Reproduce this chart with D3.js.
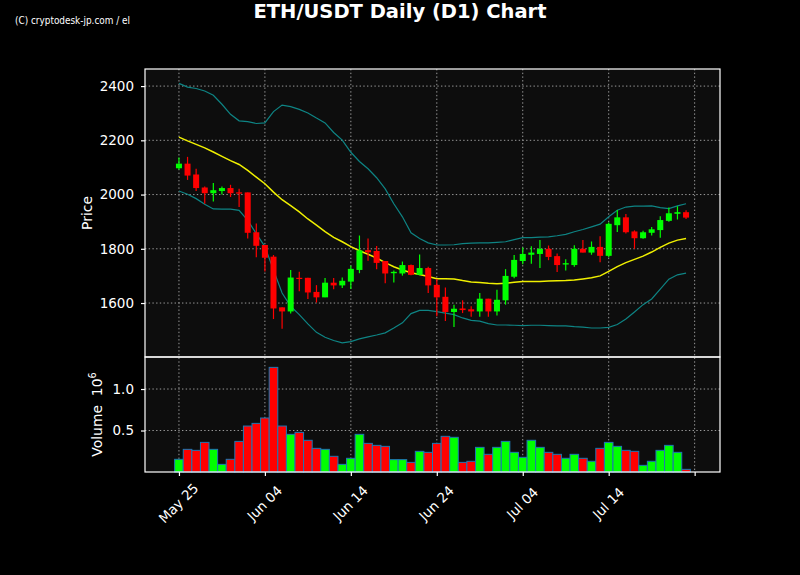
<!DOCTYPE html>
<html>
<head>
<meta charset="utf-8">
<script src="https://cdn.jsdelivr.net/npm/d3@7"></script>
<style>
  html, body { margin: 0; padding: 0; background: #000; }
  svg { display: block; }
  text { font-family: "DejaVu Sans", sans-serif; fill: #fff; }
</style>
</head>
<body>
<script>
// daily candles, May 25 .. Jul 23
const startDate = new Date(Date.UTC(2023, 4, 25))
const dates = d3.utcDay.range(startDate, d3.utcDay.offset(startDate, 60))

const open = [2097, 2114, 2074, 2026, 2005, 2013, 2024, 2008, 2008, 1861,
  1814, 1771, 1584, 1569, 1693, 1693, 1641, 1621, 1675, 1665,
  1679, 1722, 1795, 1792, 1755, 1710, 1709, 1740, 1704, 1729,
  1667, 1623, 1567, 1580, 1577, 1569, 1616, 1569, 1610, 1697,
  1755, 1778, 1781, 1800, 1773, 1742, 1740, 1800, 1786, 1807,
  1774, 1887, 1916, 1864, 1839, 1859, 1869, 1903, 1929, 1935]
const high = [2137, 2139, 2095, 2030, 2043, 2030, 2036, 2021, 2008, 1893,
  1814, 1777, 1584, 1722, 1715, 1693, 1666, 1692, 1692, 1694,
  1738, 1849, 1838, 1810, 1755, 1720, 1753, 1742, 1779, 1734,
  1689, 1657, 1594, 1610, 1588, 1637, 1616, 1649, 1725, 1777,
  1805, 1809, 1832, 1812, 1783, 1761, 1813, 1832, 1827, 1846,
  1897, 1943, 1928, 1868, 1867, 1880, 1920, 1952, 1957, 1942]
const low = [2092, 2054, 2013, 1966, 1974, 2000, 1991, 1954, 1838, 1769,
  1716, 1541, 1505, 1561, 1643, 1615, 1602, 1621, 1651, 1655,
  1652, 1710, 1756, 1725, 1673, 1676, 1701, 1702, 1702, 1637,
  1551, 1534, 1512, 1563, 1549, 1549, 1549, 1554, 1594, 1691,
  1743, 1745, 1729, 1758, 1714, 1720, 1734, 1786, 1778, 1750,
  1769, 1862, 1856, 1800, 1837, 1849, 1841, 1900, 1908, 1910]
const close = [2114, 2070, 2024, 2005, 2016, 2024, 2005, 2005, 1859, 1811,
  1767, 1580, 1569, 1694, 1689, 1639, 1621, 1675, 1665, 1682,
  1726, 1794, 1787, 1748, 1709, 1715, 1740, 1704, 1729, 1665,
  1621, 1567, 1579, 1574, 1569, 1616, 1569, 1612, 1700, 1759,
  1781, 1786, 1800, 1770, 1740, 1747, 1800, 1786, 1807, 1774,
  1892, 1916, 1861, 1839, 1861, 1872, 1906, 1931, 1935, 1915]

// volume in units of 10^6
const volume = [0.153, 0.273, 0.261, 0.357, 0.273, 0.092, 0.153, 0.369, 0.554, 0.586,
  0.651, 1.261, 0.554, 0.454, 0.478, 0.382, 0.285, 0.273, 0.189, 0.092,
  0.165, 0.454, 0.345, 0.321, 0.309, 0.149, 0.149, 0.116, 0.249, 0.237,
  0.345, 0.430, 0.418, 0.116, 0.129, 0.297, 0.213, 0.297, 0.369, 0.237,
  0.177, 0.382, 0.297, 0.237, 0.213, 0.165, 0.213, 0.165, 0.129, 0.285,
  0.357, 0.309, 0.261, 0.249, 0.080, 0.129, 0.261, 0.321, 0.237, 0.032]

// bollinger bands (20 day)
const bbMid = [2212, 2198, 2185, 2172, 2157, 2141, 2125, 2111, 2089, 2064,
  2040, 2009, 1981, 1959, 1936, 1910, 1887, 1863, 1842, 1826,
  1808, 1793, 1780, 1766, 1749, 1734, 1722, 1712, 1705, 1698,
  1690, 1690, 1689, 1683, 1678, 1676, 1673, 1671, 1673, 1677,
  1679, 1679, 1679, 1681, 1682, 1683, 1685, 1689, 1693, 1700,
  1717, 1734, 1749, 1761, 1773, 1788, 1805, 1821, 1832, 1838]
const bbUpper = [2410, 2396, 2391, 2382, 2366, 2333, 2296, 2272, 2269, 2262,
  2264, 2306, 2330, 2324, 2314, 2301, 2282, 2264, 2229, 2201,
  2156, 2122, 2095, 2062, 2021, 1966, 1918, 1859, 1838, 1822,
  1814, 1814, 1815, 1819, 1821, 1822, 1822, 1824, 1826, 1834,
  1841, 1841, 1843, 1844, 1848, 1853, 1863, 1871, 1881, 1891,
  1918, 1942, 1954, 1957, 1957, 1958, 1952, 1948, 1958, 1966]
const bbLower = [2013, 2001, 1985, 1964, 1947, 1946, 1946, 1942, 1905, 1856,
  1808, 1722, 1637, 1588, 1557, 1523, 1492, 1474, 1462, 1453,
  1458, 1468, 1475, 1482, 1490, 1508, 1527, 1561, 1573, 1573,
  1568, 1563, 1557, 1545, 1536, 1533, 1524, 1519, 1519, 1518,
  1517, 1518, 1518, 1517, 1516, 1516, 1513, 1511, 1508, 1508,
  1510, 1521, 1541, 1567, 1594, 1615, 1651, 1688, 1704, 1710]

const priceTicks = [1600, 1800, 2000, 2200, 2400]
const volumeTicks = [0.5, 1.0]
const dateTicks = d3.utcDay.range(startDate, d3.utcDay.offset(startDate, 61), 10)
const labelledTicks = 6

const candles = dates.map((date, i) => ({
  date, o: open[i], h: high[i], l: low[i], c: close[i], v: volume[i]
}))

const width = 800
const height = 575
const left = 145
const right = 720
const mainTop = 69
const mainBottom = 357
const volBottom = 472
const up = '#00ff00'
const down = '#ff0000'
const gridColor = '#9a9a9a'

const pad = 3.95 * 864e5
const x = d3.scaleUtc()
  .domain([new Date(dates[0].getTime() - pad), new Date(dates[dates.length - 1].getTime() + pad)])
  .range([left, right])
const step = x(dates[1]) - x(dates[0])

const yPrice = d3.scaleLinear().domain([1401, 2463]).range([mainBottom, mainTop])
const yVol = d3.scaleLinear().domain([0, 1.386]).range([volBottom, mainBottom])

const svg = d3.select('body').append('svg')
  .attr('width', width)
  .attr('height', height)

svg.append('rect').attr('width', width).attr('height', height).attr('fill', '#000')

// panel backgrounds
svg.append('rect')
  .attr('x', left).attr('y', mainTop)
  .attr('width', right - left).attr('height', volBottom - mainTop)
  .attr('fill', '#0d0d0d')

const grid = svg.append('g')
  .attr('stroke', gridColor)
  .attr('stroke-width', 1)
  .attr('stroke-dasharray', '1.4,2.3')

grid.selectAll('line.gx')
  .data(dateTicks)
  .join('line')
  .attr('class', 'gx')
  .attr('x1', d => x(d)).attr('x2', d => x(d))
  .attr('y1', mainTop).attr('y2', volBottom)

grid.selectAll('line.gp')
  .data(priceTicks)
  .join('line')
  .attr('class', 'gp')
  .attr('x1', left).attr('x2', right)
  .attr('y1', d => yPrice(d)).attr('y2', d => yPrice(d))

grid.selectAll('line.gv')
  .data(volumeTicks)
  .join('line')
  .attr('class', 'gv')
  .attr('x1', left).attr('x2', right)
  .attr('y1', d => yVol(d)).attr('y2', d => yVol(d))

// bands
const bandLine = (values) => d3.line()
  .x((d, i) => x(dates[i]))
  .y(d => yPrice(d))(values)

svg.append('path').attr('d', bandLine(bbUpper))
  .attr('fill', 'none').attr('stroke', '#0e8484').attr('stroke-width', 1.2)
svg.append('path').attr('d', bandLine(bbLower))
  .attr('fill', 'none').attr('stroke', '#0e8484').attr('stroke-width', 1.2)
svg.append('path').attr('d', bandLine(bbMid))
  .attr('fill', 'none').attr('stroke', '#f0f000').attr('stroke-width', 1.5)

// candles
const bodyW = step * 0.7
const candle = svg.append('g').selectAll('g')
  .data(candles)
  .join('g')

candle.append('line')
  .attr('x1', d => x(d.date)).attr('x2', d => x(d.date))
  .attr('y1', d => yPrice(d.h)).attr('y2', d => yPrice(d.l))
  .attr('stroke', d => d.c >= d.o ? up : down)
  .attr('stroke-width', 1.2)

candle.append('rect')
  .attr('x', d => x(d.date) - bodyW / 2)
  .attr('width', bodyW)
  .attr('y', d => yPrice(Math.max(d.o, d.c)))
  .attr('height', d => Math.max(1.2, Math.abs(yPrice(d.o) - yPrice(d.c))))
  .attr('fill', d => d.c >= d.o ? up : down)

// volume
svg.append('g').selectAll('rect')
  .data(candles)
  .join('rect')
  .attr('x', d => x(d.date) - step / 2)
  .attr('width', step)
  .attr('y', d => yVol(d.v))
  .attr('height', d => yVol(0) - yVol(d.v))
  .attr('fill', d => d.c >= d.o ? up : down)
  .attr('stroke', '#1f77b4')
  .attr('stroke-width', 1)

// frames
const frame = svg.append('g').attr('fill', 'none').attr('stroke', '#fff').attr('stroke-width', 1.2)
frame.append('rect')
  .attr('x', left).attr('y', mainTop)
  .attr('width', right - left).attr('height', mainBottom - mainTop)
frame.append('rect')
  .attr('x', left).attr('y', mainBottom)
  .attr('width', right - left).attr('height', volBottom - mainBottom)

// axes
const styleAxis = (g) => {
  g.select('.domain').remove()
  g.selectAll('.tick line').attr('stroke', '#fff').attr('stroke-width', 1.2)
  g.selectAll('.tick text').attr('fill', '#fff').attr('font-size', 13.5)
    .attr('font-family', '"DejaVu Sans", sans-serif')
}

svg.append('g')
  .attr('transform', `translate(${left},0)`)
  .call(d3.axisLeft(yPrice).tickValues(priceTicks).tickSize(4).tickPadding(7).tickFormat(d3.format('d')))
  .call(styleAxis)

svg.append('g')
  .attr('transform', `translate(${left},0)`)
  .call(d3.axisLeft(yVol).tickValues(volumeTicks).tickSize(4).tickPadding(7).tickFormat(d3.format('.1f')))
  .call(styleAxis)

const xAxis = svg.append('g')
  .attr('transform', `translate(0,${volBottom})`)
  .call(d3.axisBottom(x).tickValues(dateTicks).tickSize(4).tickFormat(''))
  .call(styleAxis)

xAxis.selectAll('.tick').each(function (d, i) {
  if (i >= labelledTicks) return
  d3.select(this).append('text')
    .attr('transform', 'translate(-1,31) rotate(-45)')
    .attr('text-anchor', 'middle')
    .attr('dominant-baseline', 'central')
    .attr('font-size', 13.5)
    .text(d3.utcFormat('%b %d')(d))
})

// labels
svg.append('text')
  .attr('transform', `translate(92,${(mainTop + mainBottom) / 2}) rotate(-90)`)
  .attr('text-anchor', 'middle')
  .attr('font-size', 13.9)
  .text('Price')

const volLabel = svg.append('text')
  .attr('transform', `translate(102,${(mainBottom + volBottom) / 2}) rotate(-90)`)
  .attr('text-anchor', 'middle')
  .attr('font-size', 13.9)
volLabel.append('tspan').text('Volume\u00a0\u00a010')
volLabel.append('tspan').attr('font-size', 9.7).attr('dy', -6).text('6')

svg.append('text')
  .attr('x', 400).attr('y', 18)
  .attr('text-anchor', 'middle')
  .attr('font-size', 19.5)
  .attr('font-weight', 'bold')
  .text('ETH/USDT Daily (D1) Chart')

svg.append('text')
  .attr('x', 15).attr('y', 24)
  .attr('font-family', '"Liberation Sans Narrow", "Liberation Sans", sans-serif')
  .attr('font-size', 11)
  .attr('textLength', 115)
  .attr('lengthAdjust', 'spacingAndGlyphs')
  .text('(C) cryptodesk-jp.com / el')
</script>
</body>
</html>
